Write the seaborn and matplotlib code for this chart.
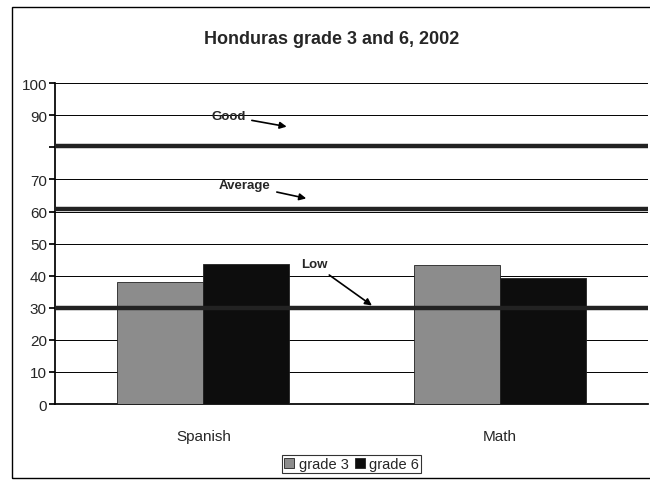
import matplotlib
matplotlib.use("Agg")
import matplotlib.pyplot as plt
import seaborn as sns
import pandas as pd

subjects = ["Spanish", "Math"]
grade3 = [38, 43.3]
grade6 = [43.5, 39.2]
series_names = ["grade 3", "grade 6"]
levels = ["Good", "Average", "Low"]
level_values = [80.5, 60.7, 30]
yticks = [0, 10, 20, 30, 40, 50, 60, 70, 80, 90, 100]
ytick_labels = ["0", "10", "20", "30", "40", "50", "60", "70", "", "90", "100"]

df = pd.DataFrame({
    "subject": subjects * 2,
    "score": grade3 + grade6,
    "grade": [series_names[0]] * 2 + [series_names[1]] * 2,
})

sns.set_theme(style="white")
plt.rcParams["font.family"] = ["Liberation Sans", "DejaVu Sans"]

fig = plt.figure(figsize=(6.5, 4.81), dpi=100)
ax = fig.add_axes([0.085, 0.158, 0.912, 0.667])

sns.barplot(data=df, x="subject", y="score", hue="grade",
            palette=["#8c8c8c", "#0d0d0d"], width=0.58, ax=ax,
            edgecolor="#222222", linewidth=0.6, saturation=1, zorder=3)

ax.set_ylim(0, 100)
ax.set_xlim(-0.5, 1.5)
ax.set_yticks(yticks)
ax.set_yticklabels(ytick_labels, fontsize=11)
ax.tick_params(axis="x", labelsize=11, pad=12)
ax.tick_params(axis="y", length=4, color="black", left=True, pad=2)
ax.set_xlabel("")
ax.set_ylabel("")
for y in yticks:
    ax.axhline(y, color="black", lw=0.7, zorder=1)
for v in level_values:
    ax.axhline(v, color="#222222", lw=3.2, zorder=4)

for s in ["top", "right"]:
    ax.spines[s].set_visible(False)
ax.spines["left"].set_color("black")
ax.spines["bottom"].set_color("black")

arrowprops = dict(arrowstyle="-|>", color="black", lw=1.2, mutation_scale=10)
ax.annotate(levels[0], xy=(0.29, 86.3), xytext=(0.085, 89.7), ha="center", va="center",
            fontsize=9.5, fontweight="bold", arrowprops=arrowprops, zorder=6)
ax.annotate(levels[1], xy=(0.356, 63.9), xytext=(0.14, 68.2), ha="center", va="center",
            fontsize=9.5, fontweight="bold", arrowprops=arrowprops, zorder=6)
ax.annotate(levels[2], xy=(0.576, 30.2), xytext=(0.373, 43.6), ha="center", va="center",
            fontsize=9.5, fontweight="bold", arrowprops=arrowprops, zorder=6)

fig.text(0.51, 0.918, "Honduras grade 3 and 6, 2002", ha="center", va="center",
         fontsize=13, fontweight="bold")

leg = ax.legend(loc="upper center", bbox_to_anchor=(0.5, -0.135), ncol=2, frameon=True,
                fontsize=10.5, handlelength=0.7, handleheight=0.7, handletextpad=0.3,
                columnspacing=0.4, borderpad=0.15, fancybox=False)
leg.get_frame().set_edgecolor("black")
leg.get_frame().set_linewidth(0.8)

fig.patches.append(plt.Rectangle((0.018, 0.005), 0.985, 0.978, transform=fig.transFigure,
                                 fill=False, edgecolor="black", lw=1.0))

fig.savefig("out.png", dpi=100)
